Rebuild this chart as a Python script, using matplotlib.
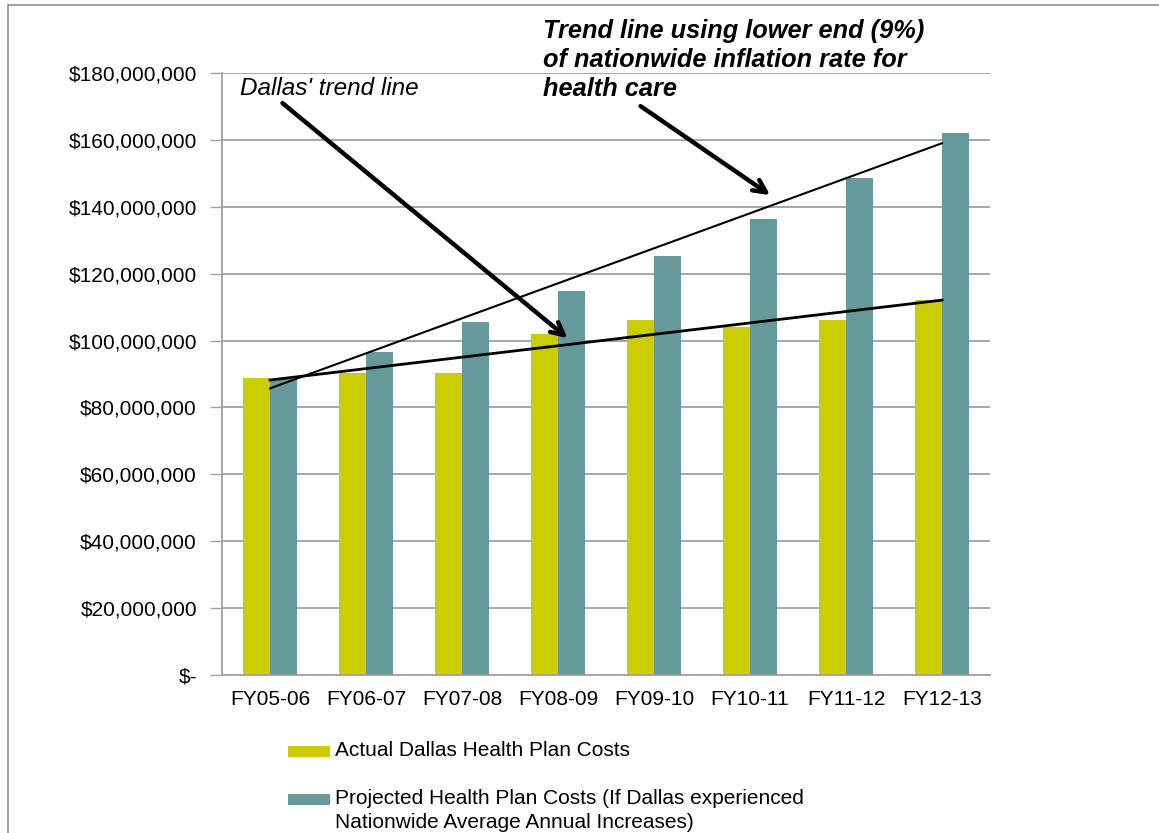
import matplotlib
matplotlib.use("Agg")
import matplotlib.pyplot as plt
from matplotlib.patches import Rectangle
from matplotlib.ticker import FuncFormatter
import numpy as np

categories = ["FY05-06", "FY06-07", "FY07-08", "FY08-09", "FY09-10", "FY10-11", "FY11-12", "FY12-13"]
actual = [88.7e6, 90.3e6, 90.3e6, 102.1e6, 106.1e6, 104.1e6, 106.1e6, 112.1e6]
projected = [88.5e6, 96.7e6, 105.5e6, 114.8e6, 125.2e6, 136.3e6, 148.7e6, 162.1e6]
dallas_trend = [88.2e6, 112.1e6]      # at first and last category
inflation_trend = [85.7e6, 159.0e6]   # at first and last category
y_ticks = [0, 20e6, 40e6, 60e6, 80e6, 100e6, 120e6, 140e6, 160e6, 180e6]

legend_actual = ["Actual Dallas Health Plan Costs"]
legend_proj = ["Projected Health Plan Costs (If Dallas experienced",
               "Nationwide Average Annual Increases)"]
note_dallas = "Dallas' trend line"
note_trend = ["Trend line using lower end (9%)", "of nationwide inflation rate for", "health care"]

YELLOW = "#CCCC00"
TEAL = "#669999"
GRID = "#A0A0A0"

plt.rcParams['font.family'] = ['Liberation Sans', 'DejaVu Sans']

W, H = 1159, 833
fig = plt.figure(figsize=(W / 100, H / 100), dpi=100)
ax = fig.add_axes([222 / W, 1 - 675 / H, (990 - 222) / W, (675 - 73) / H])

x = np.arange(len(categories))
bw = 0.28
b1 = ax.bar(x - bw / 2, actual, width=bw, color=YELLOW, zorder=2)
b2 = ax.bar(x + bw / 2, projected, width=bw, color=TEAL, zorder=2)

ax.set_xlim(-0.5, len(categories) - 0.5)
ax.set_ylim(0, 180e6)
ax.set_yticks(y_ticks)
ax.yaxis.set_major_formatter(FuncFormatter(lambda v, p: "$-" if v == 0 else f"${v:,.0f}"))
ax.set_xticks(x)
ax.set_xticklabels(categories)
ax.tick_params(axis='y', length=9, width=1, color=GRID, labelsize=15, pad=9)
ax.tick_params(axis='x', length=0, labelsize=15, pad=11)
ax.grid(axis='y', color=GRID, linewidth=1.3, zorder=0)
ax.set_axisbelow(True)
for s in ['top', 'right']:
    ax.spines[s].set_visible(False)
for s in ['left', 'bottom']:
    ax.spines[s].set_color(GRID)
    ax.spines[s].set_linewidth(1.3)

# trend lines
ax.plot([0, len(categories) - 1], dallas_trend, color='black', linewidth=2.0, zorder=4)
ax.plot([0, len(categories) - 1], inflation_trend, color='black', linewidth=1.5, zorder=4)

# arrows
arrow_kw = dict(arrowstyle='->,head_length=0.9,head_width=0.45', color='black', lw=3.2,
                shrinkA=0, shrinkB=0)
ax.annotate("", xy=(3.10, 100.7e6), xytext=(0.13, 171.0e6),
            arrowprops=arrow_kw, annotation_clip=False, zorder=5)
ax.annotate("", xy=(5.21, 143.5e6), xytext=(3.86, 170.1e6),
            arrowprops=arrow_kw, annotation_clip=False, zorder=5)

# annotation texts
fig.text(240 / W, 1 - 95 / H, note_dallas, fontsize=17.5, style='italic',
         family=['Liberation Sans Narrow', 'Liberation Sans', 'DejaVu Sans'], va='baseline', ha='left')
for i, line in enumerate(note_trend):
    fig.text(543 / W, 1 - (38 + 29 * i) / H, line, fontsize=18.3, style='italic', weight='bold',
             va='baseline', ha='left')

# legend (drawn manually so the patch sits on the first label line)
def legend_entry(y_center, color, lines):
    fig.patches.append(Rectangle((288 / W, 1 - (y_center + 5.5) / H), 42 / W, 11 / H,
                                 transform=fig.transFigure, facecolor=color, edgecolor='none'))
    for j, line in enumerate(lines):
        fig.text(335 / W, 1 - (y_center + 23 * j) / H, line, fontsize=15, va='center', ha='left')

legend_entry(751, b1.patches[0].get_facecolor(), legend_actual)
legend_entry(799, b2.patches[0].get_facecolor(), legend_proj)

# outer frame
fig.patches.append(Rectangle((8 / W, -0.1), 1.2, 1.1 - 5 / H, transform=fig.transFigure,
                             fill=False, edgecolor='#909090', linewidth=1.2))

fig.savefig("out.png", dpi=100)
